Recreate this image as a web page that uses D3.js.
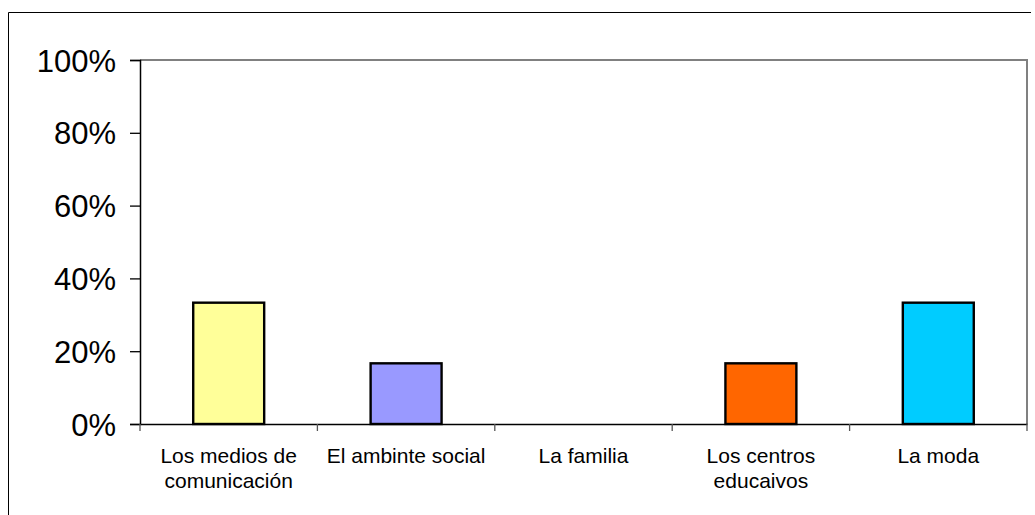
<!DOCTYPE html>
<html>
<head>
<meta charset="utf-8">
<script src="https://cdn.jsdelivr.net/npm/d3@7"></script>
<style>
  html, body { margin: 0; padding: 0; background: #fff; }
  svg { display: block; }
  text { font-family: "Liberation Sans", Arial, sans-serif; fill: #000; }
</style>
</head>
<body>
<svg id="chart" width="1035" height="515"></svg>
<script>
const categories = ["Los medios de comunicación", "El ambinte social", "La familia", "Los centros educaivos", "La moda"];
const values = [0.3333, 0.1667, 0, 0.1667, 0.3333];
const colors = ["#FFFF99", "#9999FF", "#FFFFFF", "#FF6600", "#00CCFF"];
const yTicks = [0, 0.2, 0.4, 0.6, 0.8, 1.0];

const svg = d3.select("#chart");
const margin = { left: 140, top: 60, right: 1027, bottom: 424 };

// outer chart border
svg.append("line").attr("x1", 8.5).attr("x2", 1031).attr("y1", 12.5).attr("y2", 12.5)
  .attr("stroke", "#000").attr("stroke-width", 1);
svg.append("line").attr("x1", 8.5).attr("x2", 8.5).attr("y1", 12.5).attr("y2", 515)
  .attr("stroke", "#000").attr("stroke-width", 1);

const x = d3.scaleBand().domain(categories).range([margin.left, margin.right]).paddingInner(0).paddingOuter(0);
const y = d3.scaleLinear().domain([0, 1]).range([margin.bottom, margin.top]);

// plot area border (top & right, gray)
svg.append("path")
  .attr("d", `M${margin.left},${margin.top}H${margin.right}V${margin.bottom}`)
  .attr("fill", "none").attr("stroke", "#808080").attr("stroke-width", 2);

// bars
const barW = x.bandwidth() / 2.5;
svg.append("g").selectAll("rect").data(categories.filter((c, i) => values[i] > 0)).join("rect")
  .attr("x", d => x(d) + (x.bandwidth() - barW) / 2)
  .attr("y", d => y(values[categories.indexOf(d)]))
  .attr("width", barW)
  .attr("height", d => y(0) - y(values[categories.indexOf(d)]))
  .attr("fill", d => colors[categories.indexOf(d)])
  .attr("stroke", "#000").attr("stroke-width", 2.4);

// y axis
const yAxis = d3.axisLeft(y).tickValues(yTicks).tickFormat(d3.format(".0%")).tickSize(10).tickPadding(14);
const gy = svg.append("g").attr("transform", `translate(${margin.left},0)`).call(yAxis);
gy.select(".domain").attr("stroke", "#000").attr("stroke-width", 1.5);
gy.selectAll(".tick line").attr("stroke", "#000").attr("stroke-width", 1.3);
gy.selectAll(".tick text").style("font-size", "31px").attr("font-family", "Liberation Sans, Arial, sans-serif")
  .attr("dy", "0.36em");

// x axis
const xAxis = d3.axisBottom(x).tickSize(0).tickFormat("");
const gx = svg.append("g").attr("transform", `translate(0,${margin.bottom})`).call(xAxis);
gx.select(".domain").attr("stroke", "#000").attr("stroke-width", 1.5);
// boundary ticks between categories
const bounds = categories.map(c => x(c)).concat([x(categories[categories.length - 1]) + x.bandwidth()]);
gx.append("g").selectAll("line").data(bounds).join("line")
  .attr("x1", d => d).attr("x2", d => d).attr("y1", 0).attr("y2", 7)
  .attr("stroke", "#555").attr("stroke-width", 1.3);

// category labels with wrapping
const fontSize = 21;
const lineH = 25;
const maxW = x.bandwidth() - 6;
const measure = svg.append("text").style("font-size", fontSize + "px").attr("visibility", "hidden");
function wrap(str) {
  const words = str.split(" ");
  const lines = [];
  let cur = "";
  words.forEach(w => {
    const test = cur ? cur + " " + w : w;
    measure.text(test);
    if (cur && measure.node().getComputedTextLength() > maxW) {
      lines.push(cur); cur = w;
    } else cur = test;
  });
  if (cur) lines.push(cur);
  return lines;
}
const labels = svg.append("g");
categories.forEach(c => {
  const lines = wrap(c);
  const t = labels.append("text")
    .attr("text-anchor", "middle")
    .style("font-size", fontSize + "px");
  lines.forEach((ln, i) => {
    t.append("tspan").attr("x", x(c) + x.bandwidth() / 2).attr("y", 462.5 + i * lineH).text(ln);
  });
});
measure.remove();
</script>
</body>
</html>
